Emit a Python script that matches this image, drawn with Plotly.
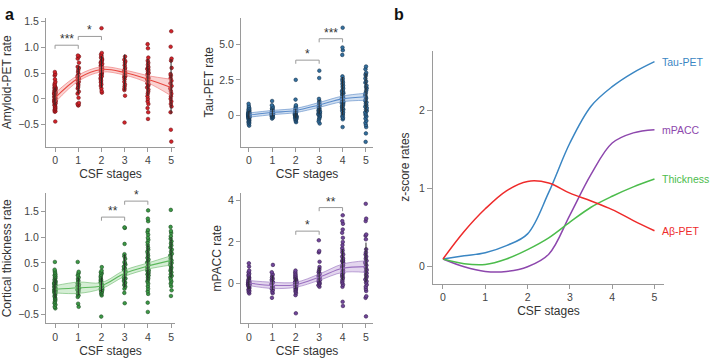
import plotly.graph_objects as go

# ---------------- data ----------------
STAGES = [0, 1, 2, 3, 4, 5]
X_TICK_LABELS = ["0", "1", "2", "3", "4", "5"]

# Panel a: Amyloid-PET rate per CSF stage
amyloid_points = [
    [0.52, 0.48, 0.45, 0.38, 0.33, 0.3, 0.27, 0.25, 0.23, 0.21, 0.2, 0.18, 0.17, 0.15, 0.14, 0.13, 0.12, 0.1,
     0.09, 0.08, 0.07, 0.06, 0.05, 0.04, 0.03, 0.02, 0.01, 0.0, -0.01, -0.02, -0.03, -0.04, -0.05, -0.06, -0.08,
     -0.09, -0.1, -0.12, -0.13, -0.15, -0.17, -0.19, -0.2, -0.22, -0.24, -0.25, -0.44, 0.11, 0.16, 0.22],
    [0.84, 0.82, 0.78, 0.7, 0.62, 0.6, 0.56, 0.52, 0.48, 0.45, 0.42, 0.4, 0.38, 0.36, 0.33, 0.3, 0.27, 0.23,
     0.2, 0.14, 0.1, 0.02, -0.08, -0.1, -0.12, -0.13],
    [1.37, 0.89, 0.86, 0.83, 0.8, 0.78, 0.76, 0.74, 0.72, 0.7, 0.68, 0.66, 0.64, 0.62, 0.6, 0.58, 0.57, 0.55,
     0.53, 0.52, 0.5, 0.48, 0.46, 0.44, 0.42, 0.4, 0.38, 0.35, 0.32, 0.28, 0.25, 0.2, 0.15, 0.12],
    [0.82, 0.76, 0.73, 0.7, 0.65, 0.6, 0.57, 0.54, 0.52, 0.5, 0.48, 0.46, 0.44, 0.42, 0.38, 0.33, 0.28, 0.24,
     0.2, 0.17, 0.06, -0.46],
    [1.06, 0.98, 0.8, 0.74, 0.7, 0.66, 0.62, 0.6, 0.58, 0.56, 0.53, 0.5, 0.48, 0.45, 0.42, 0.4, 0.38, 0.36,
     0.33, 0.3, 0.28, 0.25, 0.22, 0.18, 0.14, 0.1, 0.05, 0.0, -0.05, -0.1, -0.18, -0.26, -0.39],
    [1.31, 1.01, 0.78, 0.74, 0.6, 0.48, 0.45, 0.4, 0.35, 0.3, 0.25, 0.2, 0.15, 0.1, 0.05, 0.0, -0.05, -0.1,
     -0.15, -0.26, -0.6, -0.83],
]
amyloid_fit = [0.02, 0.4, 0.57, 0.51, 0.38, 0.22]
amyloid_fit_lo = [-0.07, 0.34, 0.52, 0.46, 0.31, 0.06]
amyloid_fit_hi = [0.11, 0.46, 0.62, 0.56, 0.45, 0.38]
amyloid_bar_lo = [-0.12, 0.1, 0.22, 0.16, 0.06, -0.29]
amyloid_bar_hi = [0.22, 0.64, 0.83, 0.86, 0.77, 0.77]

# Tau-PET rate
tau_points = [
    [0.8, 0.65, 0.55, 0.48, 0.42, 0.38, 0.34, 0.3, 0.27, 0.24, 0.21, 0.18, 0.15, 0.12, 0.1, 0.08, 0.05, 0.03,
     0.01, 0.0, -0.02, -0.04, -0.06, -0.08, -0.1, -0.12, -0.14, -0.16, -0.19, -0.22, -0.25, -0.28, -0.32,
     -0.36, -0.4, -0.45, -0.5, -0.56, -0.64, -0.75, 0.02, 0.06, -0.03, 0.13],
    [1.0, 0.7, 0.6, 0.52, 0.45, 0.4, 0.35, 0.3, 0.26, 0.22, 0.18, 0.15, 0.12, 0.09, 0.06, 0.03, 0.0, -0.03,
     -0.07, -0.1, -0.14, -0.18, -0.25],
    [2.5, 1.1, 0.7, 0.6, 0.52, 0.45, 0.4, 0.36, 0.32, 0.28, 0.25, 0.22, 0.18, 0.15, 0.12, 0.1, 0.07, 0.04,
     0.02, 0.0, -0.02, -0.05, -0.08, -0.1, -0.13, -0.16, -0.2, -0.24, -0.28, -0.33, -0.4, -0.5],
    [3.15, 2.63, 1.15, 1.0, 0.9, 0.82, 0.75, 0.68, 0.62, 0.56, 0.5, 0.45, 0.4, 0.35, 0.3, 0.26, 0.22, 0.18,
     0.14, 0.1, 0.06, 0.02, -0.05, -0.12, -0.2, -0.3, -0.45, -0.6],
    [6.2, 4.8, 4.6, 4.27, 2.75, 2.6, 2.5, 2.4, 2.3, 2.2, 2.1, 2.0, 1.9, 1.8, 1.7, 1.6, 1.5, 1.4, 1.3, 1.2,
     1.1, 1.0, 0.95, 0.9, 0.8, 0.7, 0.6, 0.5, 0.45, 0.4, 0.3, 0.2, 0.1, 0.0, -0.1, -0.2, -0.3, -0.85, 1.25,
     1.15, 0.85, 0.65, 1.55, 1.65],
    [3.45, 3.26, 3.0, 2.9, 2.8, 2.6, 2.4, 2.3, 2.1, 2.0, 1.9, 1.75, 1.6, 1.5, 1.4, 1.3, 1.2, 1.1, 1.0, 0.9,
     0.8, 0.7, 0.6, 0.5, 0.4, 0.3, 0.2, 0.1, 0.0, -0.1, -0.25, -0.4, -0.55, -0.7, -0.85, -1.3, -1.9],
]
tau_fit = [0.0, 0.18, 0.33, 0.72, 1.15, 1.3]
tau_fit_lo = [-0.15, 0.03, 0.18, 0.55, 0.95, 1.05]
tau_fit_hi = [0.15, 0.33, 0.48, 0.89, 1.35, 1.55]
tau_bar_lo = [-0.25, -0.1, -0.2, 0.1, 0.0, 0.2]
tau_bar_hi = [0.3, 0.45, 0.45, 1.1, 2.7, 3.0]

# Cortical thickness rate
thick_points = [
    [0.52, 0.37, 0.34, 0.31, 0.28, 0.26, 0.24, 0.22, 0.2, 0.18, 0.16, 0.14, 0.12, 0.1, 0.09, 0.08, 0.06, 0.05,
     0.04, 0.02, 0.01, 0.0, -0.01, -0.02, -0.04, -0.05, -0.07, -0.08, -0.1, -0.12, -0.14, -0.16, -0.18, -0.2,
     -0.22, -0.25, -0.28, -0.31, -0.35, -0.38, 0.11, 0.03, -0.03, 0.07, 0.15],
    [0.52, 0.33, 0.3, 0.26, 0.22, 0.19, 0.16, 0.13, 0.1, 0.08, 0.05, 0.03, 0.01, -0.02, -0.04, -0.07, -0.1,
     -0.13, -0.16, -0.29, -0.35],
    [0.42, 0.35, 0.32, 0.3, 0.27, 0.24, 0.21, 0.18, 0.16, 0.14, 0.12, 0.1, 0.08, 0.06, 0.04, 0.02, 0.0,
     -0.02, -0.04, -0.06, -0.08, -0.1, -0.13, -0.54],
    [1.19, 1.18, 0.87, 0.67, 0.63, 0.58, 0.52, 0.5, 0.47, 0.43, 0.4, 0.37, 0.34, 0.31, 0.28, 0.25, 0.22, 0.2,
     0.18, 0.15, 0.12, 0.1, 0.07, 0.04, 0.0, -0.08, -0.28],
    [1.52, 1.36, 1.31, 1.14, 1.1, 1.05, 0.99, 0.95, 0.9, 0.85, 0.8, 0.76, 0.72, 0.68, 0.64, 0.6, 0.57, 0.54,
     0.51, 0.48, 0.45, 0.42, 0.4, 0.38, 0.35, 0.33, 0.3, 0.28, 0.25, 0.22, 0.2, 0.17, 0.14, 0.1, 0.05, 0.0,
     -0.05, -0.1, -0.27, -0.45, 0.43, 0.36, 0.31, 0.26],
    [1.53, 1.2, 1.12, 1.08, 1.02, 0.97, 0.92, 0.88, 0.84, 0.8, 0.76, 0.72, 0.68, 0.65, 0.62, 0.58, 0.55, 0.52,
     0.5, 0.47, 0.44, 0.41, 0.38, 0.35, 0.32, 0.28, 0.25, 0.22, 0.18, 0.14, 0.1, 0.05, -0.03, -0.14],
]
thick_fit = [-0.01, 0.02, 0.06, 0.3, 0.44, 0.55]
thick_fit_lo = [-0.08, -0.09, 0.0, 0.24, 0.38, 0.46]
thick_fit_hi = [0.06, 0.13, 0.12, 0.36, 0.5, 0.64]
thick_bar_lo = [-0.18, -0.12, -0.06, 0.03, 0.16, 0.22]
thick_bar_hi = [0.2, 0.22, 0.22, 0.67, 0.86, 1.0]

# mPACC rate
mpacc_points = [
    [0.98, 0.82, 0.63, 0.55, 0.48, 0.42, 0.37, 0.32, 0.28, 0.24, 0.2, 0.16, 0.12, 0.09, 0.06, 0.03, 0.0,
     -0.03, -0.06, -0.09, -0.12, -0.15, -0.18, -0.22, -0.26, -0.3, -0.35, -0.4, -0.47, 0.01, 0.05, -0.05, 0.1,
     0.14, -0.1],
    [0.9, 0.55, 0.45, 0.38, 0.3, 0.24, 0.18, 0.12, 0.07, 0.02, -0.03, -0.08, -0.13, -0.18, -0.24, -0.3,
     -0.38, -0.46, -0.68],
    [0.63, 0.55, 0.48, 0.42, 0.37, 0.32, 0.27, 0.23, 0.19, 0.15, 0.11, 0.08, 0.05, 0.02, 0.0, -0.03, -0.06,
     -0.09, -0.12, -0.15, -0.19, -0.23, -0.27, -0.32, -0.38, -0.45, -0.55, -1.42, 0.03, -0.01, 0.07, -0.05],
    [2.08, 1.57, 1.5, 1.05, 0.8, 0.7, 0.62, 0.55, 0.48, 0.42, 0.37, 0.32, 0.27, 0.22, 0.18, 0.14, 0.1, 0.06,
     0.02, -0.03, -0.08, -0.15],
    [3.28, 3.0, 2.87, 2.6, 2.44, 2.2, 2.0, 1.85, 1.7, 1.6, 1.5, 1.4, 1.3, 1.22, 1.15, 1.08, 1.0, 0.94, 0.88,
     0.82, 0.76, 0.7, 0.64, 0.58, 0.52, 0.46, 0.4, 0.34, 0.28, 0.2, 0.12, 0.04, -0.05, -0.15, -0.87, -1.07,
     0.9, 0.8, 1.1],
    [3.83, 3.12, 3.0, 2.36, 2.3, 2.13, 1.65, 1.5, 1.4, 1.3, 1.2, 1.1, 1.02, 0.95, 0.88, 0.8, 0.72, 0.65, 0.58,
     0.5, 0.42, 0.35, 0.28, 0.2, 0.12, 0.05, -0.05, -0.15, -0.25, -0.35, -0.6, -0.68, -1.57],
]
mpacc_fit = [0.03, -0.08, -0.05, 0.31, 0.74, 0.82]
mpacc_fit_lo = [-0.09, -0.23, -0.17, 0.16, 0.54, 0.54]
mpacc_fit_hi = [0.15, 0.07, 0.07, 0.46, 0.94, 1.1]
mpacc_bar_lo = [-0.25, -0.3, -0.25, 0.1, 0.16, 0.08]
mpacc_bar_hi = [0.35, 0.4, 0.3, 0.8, 1.65, 1.97]

# significance brackets: (stage from, stage to, bracket level, label)
amyloid_sig = [(0, 1, 1.04, "***"), (1, 2, 1.21, "*")]
tau_sig = [(2, 3, 3.9, "*"), (3, 4, 5.42, "***")]
thick_sig = [(2, 3, 1.39, "**"), (3, 4, 1.70, "*")]
mpacc_sig = [(2, 3, 2.52, "*"), (3, 4, 3.65, "**")]

# Panel b: modelled z-score rates along CSF stages
b_stages = [0, 0.5, 1, 1.5, 2, 2.5, 3, 3.5, 4, 4.5, 5]
b_tau = [0.1, 0.14, 0.18, 0.27, 0.42, 0.95, 1.58, 2.05, 2.3, 2.48, 2.62]
b_mpacc = [0.1, 0.0, -0.06, -0.06, 0.0, 0.16, 0.66, 1.18, 1.58, 1.71, 1.75]
b_thick = [0.1, 0.04, 0.03, 0.1, 0.22, 0.37, 0.57, 0.76, 0.9, 1.02, 1.12]
b_abeta = [0.1, 0.45, 0.74, 0.97, 1.09, 1.07, 0.94, 0.84, 0.73, 0.59, 0.46]
b_names = ["Tau-PET", "mPACC", "Thickness", "Aβ-PET"]

# ---------------- figure ----------------
W, H = 712, 358
FONT = "Liberation Sans, Arial, sans-serif"
AX_COL = "#9a9a9a"
TXT_COL = "#444444"


def dom_x(a, b):
    return [a / W, b / W]


def dom_y(top, bottom):
    return [1 - bottom / H, 1 - top / H]


panels = [
    dict(points=amyloid_points, fit=amyloid_fit, lo=amyloid_fit_lo, hi=amyloid_fit_hi,
         blo=amyloid_bar_lo, bhi=amyloid_bar_hi, sig=amyloid_sig,
         title="Amyloid-PET rate", xd=(46, 175), yd=(15, 145), xr=(-0.39, 5.17), yr=(-0.93, 1.57),
         ytv=[-0.5, 0, 0.5, 1.0, 1.5], ytt=["−0.5", "0", "0.5", "1.0", "1.5"],
         mcol="#d3232a", mline="#6e1014", fill="rgba(242,130,125,0.35)", edge="rgba(236,110,110,0.75)",
         center="#e8473f"),
    dict(points=tau_points, fit=tau_fit, lo=tau_fit_lo, hi=tau_fit_hi,
         blo=tau_bar_lo, bhi=tau_bar_hi, sig=tau_sig,
         title="Tau-PET rate", xd=(241, 373), yd=(15, 145), xr=(-0.34, 5.3), yr=(-2.25, 6.9),
         ytv=[0, 2.5, 5.0], ytt=["0", "2.5", "5.0"],
         mcol="#33709f", mline="#16324d", fill="rgba(125,165,215,0.35)", edge="rgba(95,140,200,0.8)",
         center="#5b8ccb"),
    dict(points=thick_points, fit=thick_fit, lo=thick_fit_lo, hi=thick_fit_hi,
         blo=thick_bar_lo, bhi=thick_bar_hi, sig=thick_sig,
         title="Cortical thickness rate", xd=(46, 175), yd=(192, 323), xr=(-0.39, 5.17), yr=(-0.67, 1.85),
         ytv=[-0.5, 0, 0.5, 1.0, 1.5], ytt=["−0.5", "0", "0.5", "1.0", "1.5"],
         mcol="#3c9a46", mline="#1b4a20", fill="rgba(135,205,135,0.35)", edge="rgba(105,185,105,0.75)",
         center="#5cb85c"),
    dict(points=mpacc_points, fit=mpacc_fit, lo=mpacc_fit_lo, hi=mpacc_fit_hi,
         blo=mpacc_bar_lo, bhi=mpacc_bar_hi, sig=mpacc_sig,
         title="mPACC rate", xd=(241, 373), yd=(192, 323), xr=(-0.34, 5.3), yr=(-1.9, 4.33),
         ytv=[0, 2, 4], ytt=["0", "2", "4"],
         mcol="#71469a", mline="#381f4f", fill="rgba(175,135,205,0.35)", edge="rgba(150,110,190,0.75)",
         center="#9a70c0"),
]

fig = go.Figure()
layout = dict(
    width=W, height=H, margin=dict(l=0, r=0, t=0, b=0),
    paper_bgcolor="white", plot_bgcolor="white", showlegend=False,
    font=dict(family=FONT, size=10, color=TXT_COL),
    boxmode="overlay",
)
shapes = []
annotations = []

for i, p in enumerate(panels):
    n = i + 1
    xa = "x" if n == 1 else f"x{n}"
    ya = "y" if n == 1 else f"y{n}"
    xkey = "xaxis" if n == 1 else f"xaxis{n}"
    ykey = "yaxis" if n == 1 else f"yaxis{n}"

    # band
    fig.add_trace(go.Scatter(x=STAGES, y=p["lo"], mode="lines", line=dict(color=p["edge"], width=0.8, shape="spline"),
                             xaxis=xa, yaxis=ya, hoverinfo="skip"))
    fig.add_trace(go.Scatter(x=STAGES, y=p["hi"], mode="lines", line=dict(color=p["edge"], width=0.8, shape="spline"),
                             fill="tonexty", fillcolor=p["fill"], xaxis=xa, yaxis=ya, hoverinfo="skip"))
    fig.add_trace(go.Scatter(x=STAGES, y=p["fit"], mode="lines", line=dict(color=p["center"], width=1.1, shape="spline"),
                             xaxis=xa, yaxis=ya, hoverinfo="skip"))

    # jittered points
    xs, ys = [], []
    for s, vals in zip(STAGES, p["points"]):
        xs += [s] * len(vals)
        ys += vals
    fig.add_trace(go.Box(x=xs, y=ys, boxpoints="all", jitter=0.3, pointpos=0, width=0.26,
                         fillcolor="rgba(0,0,0,0)", line=dict(color="rgba(0,0,0,0)", width=0),
                         marker=dict(size=3.6, color=p["mcol"], line=dict(color=p["mline"], width=0.6)),
                         xaxis=xa, yaxis=ya, hoveron="points"))

    # vertical spread bars
    bx, by = [], []
    for s, lo, hi in zip(STAGES, p["blo"], p["bhi"]):
        bx += [s, s, None]
        by += [lo, hi, None]
    fig.add_trace(go.Scatter(x=bx, y=by, mode="lines", line=dict(color="#2b2b2b", width=1),
                             xaxis=xa, yaxis=ya, hoverinfo="skip"))

    layout[xkey] = dict(domain=dom_x(*p["xd"]), anchor=ya, range=list(p["xr"]), showline=True, linecolor=AX_COL,
                        linewidth=1, ticks="outside", ticklen=4, tickcolor=AX_COL, tickvals=STAGES,
                        ticktext=X_TICK_LABELS, showgrid=False, zeroline=False,
                        tickfont=dict(size=10.5, color=TXT_COL),
                        title=dict(text="CSF stages", font=dict(size=12, color="#333333"), standoff=4))
    layout[ykey] = dict(domain=dom_y(*p["yd"]), anchor=xa, range=list(p["yr"]), showline=True, linecolor=AX_COL,
                        linewidth=1, ticks="outside", ticklen=4, tickcolor=AX_COL, tickvals=p["ytv"],
                        ticktext=p["ytt"], showgrid=False, zeroline=False,
                        tickfont=dict(size=10.5, color=TXT_COL),
                        title=dict(text=p["title"], font=dict(size=12, color="#333333"), standoff=3))

    span = p["yr"][1] - p["yr"][0]
    drop = 0.028 * span
    for s1, s2, lvl, lab in p["sig"]:
        shapes.append(dict(type="path", xref=xa, yref=ya,
                           path=f"M {s1},{lvl - drop} L {s1},{lvl} L {s2},{lvl} L {s2},{lvl - drop}",
                           line=dict(color="#9a9a9a", width=1)))
        annotations.append(dict(x=(s1 + s2) / 2, y=lvl, xref=xa, yref=ya, text=lab, showarrow=False,
                                yanchor="bottom", yshift=-3, font=dict(size=12, color="#333333")))

# panel b
b_colors = ["#3a86c3", "#8d47ad", "#4cbc4c", "#ee2b2b"]
b_series = [b_tau, b_mpacc, b_thick, b_abeta]
for name, vals, col in zip(b_names, b_series, b_colors):
    fig.add_trace(go.Scatter(x=b_stages, y=vals, mode="lines", line=dict(color=col, width=1.5, shape="spline"),
                             xaxis="x5", yaxis="y5", name=name))
    annotations.append(dict(x=b_stages[-1], y=vals[-1], xref="x5", yref="y5", text=name, showarrow=False,
                            xanchor="left", xshift=6, font=dict(size=10.5, color=col)))

layout["xaxis5"] = dict(domain=dom_x(433, 664), anchor="y5", range=[-0.236, 5.225], showline=True,
                        linecolor=AX_COL, linewidth=1, ticks="outside", ticklen=4, tickcolor=AX_COL,
                        tickvals=STAGES, ticktext=X_TICK_LABELS, showgrid=False, zeroline=False,
                        tickfont=dict(size=10.5, color=TXT_COL),
                        title=dict(text="CSF stages", font=dict(size=12, color="#333333"), standoff=4))
layout["yaxis5"] = dict(domain=dom_y(48, 283), anchor="x5", range=[-0.215, 2.76], showline=True,
                        linecolor=AX_COL, linewidth=1, ticks="outside", ticklen=5, tickcolor=AX_COL,
                        tickvals=[0, 1, 2], ticktext=["0", "1", "2"], showgrid=False, zeroline=False,
                        tickfont=dict(size=10.5, color=TXT_COL),
                        title=dict(text="z-score rates", font=dict(size=12, color="#333333"), standoff=6))

annotations.append(dict(x=3 / W, y=1 - 1 / H, xref="paper", yref="paper", text="<b>a</b>", showarrow=False,
                        xanchor="left", yanchor="top", font=dict(size=16, color="#111111")))
annotations.append(dict(x=392 / W, y=1 - 1 / H, xref="paper", yref="paper", text="<b>b</b>", showarrow=False,
                        xanchor="left", yanchor="top", font=dict(size=16, color="#111111")))

layout["shapes"] = shapes
layout["annotations"] = annotations
fig.update_layout(**layout)
fig.write_html("out.html", config={"displayModeBar": False},
               post_script="document.body.style.margin='0';document.body.style.overflow='hidden';")
